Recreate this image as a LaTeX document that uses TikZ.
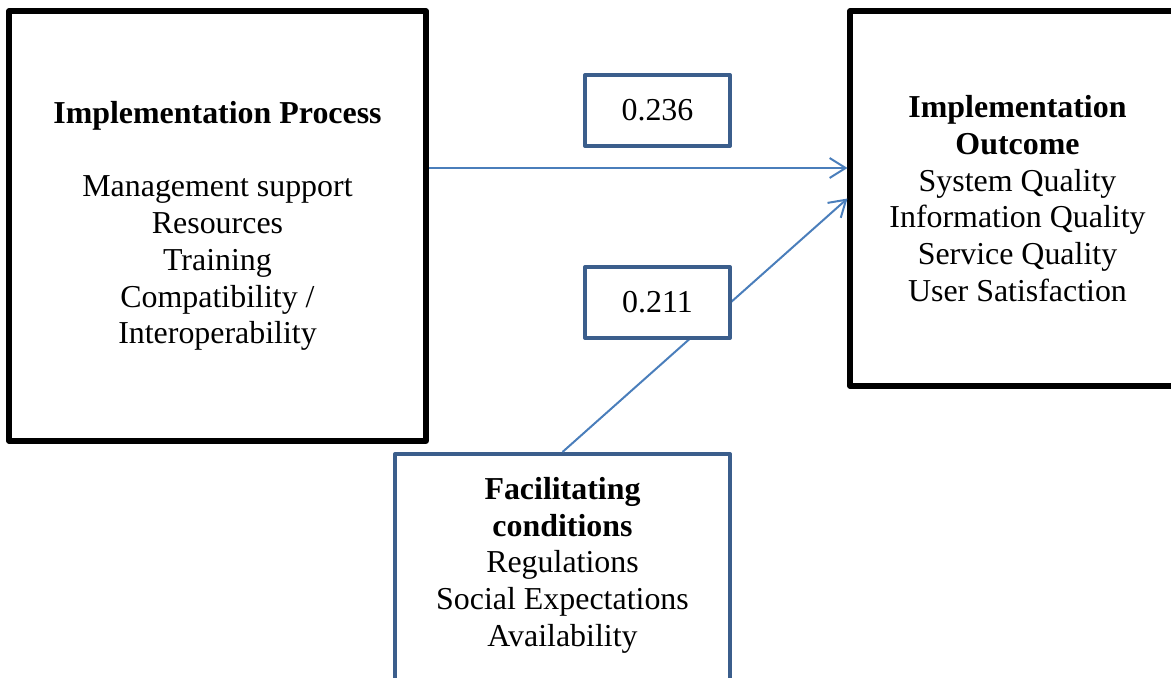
\documentclass[tikz,border=0pt]{standalone}
\usepackage{fontspec}
\setmainfont{Liberation Serif}
\usetikzlibrary{arrows.meta}
\definecolor{boxblue}{HTML}{3B5E8C}
\definecolor{lineblue}{HTML}{4A7EBB}
\begin{document}
\begin{tikzpicture}[x=0.376pt,y=-0.376pt,
  block/.style={rectangle, draw=black, line width=1.9pt, line join=round, align=center, inner sep=0pt,
    font=\fontsize{12pt}{13.8pt}\selectfont},
  weight/.style={block, draw=boxblue, line width=1.5pt, fill=white},
  link/.style={draw=lineblue, line width=0.75pt},
  arrow/.style={link, -{Straight Barb[length=6pt,width=7.5pt]}}]
\useasboundingbox (0,0) rectangle (1171,678);
\node at (217.5,226) (proc) [block, minimum width=417*0.376pt, minimum height=430*0.376pt]
  {\textbf{Implementation Process}\\[13.8pt]Management support\\Resources\\Training\\Compatibility /\\Interoperability};
\node at (1017.5,198.5) (outc) [block, minimum width=335*0.376pt, minimum height=375*0.376pt]
  {\textbf{Implementation}\\\textbf{Outcome}\\System Quality\\Information Quality\\Service Quality\\User Satisfaction};
\node at (562.5,580) (fac) [weight, minimum width=335*0.376pt, minimum height=252*0.376pt]
  {\textbf{Facilitating}\\\textbf{conditions}\\Regulations\\Social Expectations\\Availability\\ \mbox{}};
\draw [arrow] ([yshift=58*0.376pt]proc.east) -- ([yshift=58*0.376pt]proc.east -| outc.west);
\draw [arrow] (fac.north) -- (outc.west);
\node at (657.5,110.5) (w236) [weight, minimum width=145*0.376pt, minimum height=71*0.376pt] {0.236};
\node at (657.5,302.5) (w211) [weight, minimum width=145*0.376pt, minimum height=71*0.376pt] {0.211};
\end{tikzpicture}
\end{document}
